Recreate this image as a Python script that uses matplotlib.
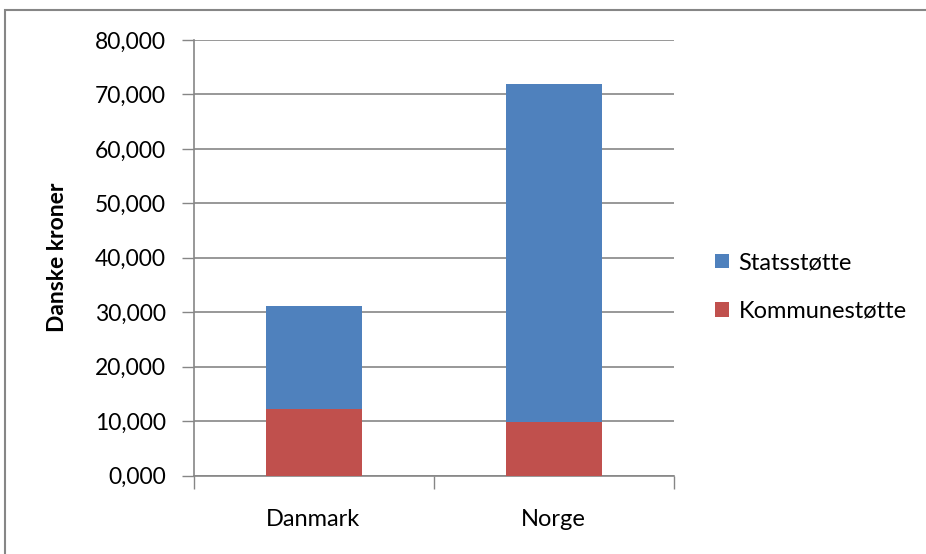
import matplotlib
matplotlib.use("Agg")
import matplotlib.pyplot as plt
from matplotlib.patches import Rectangle

# data
countries = ["Danmark", "Norge"]
kommune = [12200, 9900]
stat = [19000, 62100]
yticks = [0, 10000, 20000, 30000, 40000, 50000, 60000, 70000, 80000]
ytick_labels = ["0,000", "10,000", "20,000", "30,000", "40,000",
                "50,000", "60,000", "70,000", "80,000"]

plt.rcParams['font.family'] = ['Lato', 'DejaVu Sans']
grid_col = '#868686'

fig = plt.figure(figsize=(9.26, 5.54), dpi=100)
ax = fig.add_axes([193.5/926, 1-475.5/554, 480/926, 435.5/554])

x = range(len(countries))
ax.bar(x, kommune, width=0.4, color='#C0504D', label='Kommunestøtte', zorder=3)
ax.bar(x, stat, width=0.4, bottom=kommune, color='#4F81BD', label='Statsstøtte', zorder=3)

ax.set_xlim(-0.5, 1.5)
ax.set_ylim(0, 80000)
ax.set_yticks(yticks)
ax.set_yticklabels(ytick_labels)
ax.set_xticks(list(x))
ax.set_xticklabels(countries)
# category separators on x axis
ax.set_xticks([-0.5, 0.5, 1.5], minor=True)
ax.tick_params(axis='x', which='major', length=0, pad=24, labelsize=17)
ax.tick_params(axis='x', which='minor', length=9, color=grid_col, width=1)
ax.tick_params(axis='y', length=9, color=grid_col, width=1, pad=11, labelsize=16.5)

ax.yaxis.grid(True, color=grid_col, linewidth=1.2, zorder=0)
for s in ['top', 'right']:
    ax.spines[s].set_visible(False)
for s in ['left', 'bottom']:
    ax.spines[s].set_color(grid_col)
    ax.spines[s].set_linewidth(1.2)

ax.set_ylabel('Danske kroner', fontsize=16.5, fontweight='bold')
ax.yaxis.set_label_coords(-0.262, 0.5)

handles, labels = ax.get_legend_handles_labels()
fig.legend(handles[::-1], labels[::-1], loc='center left',
           bbox_to_anchor=(694/926, 1-287/554), frameon=False, fontsize=17,
           handlelength=0.58, handleheight=0.58, handletextpad=0.4, labelspacing=1.15)

# outer chart frame
fig.patches.append(Rectangle((5/926, -0.05), 1.1, 1-10/554+0.05,
                             transform=fig.transFigure, fill=False,
                             edgecolor=grid_col, linewidth=1.5))

fig.savefig('out.png', dpi=100)
